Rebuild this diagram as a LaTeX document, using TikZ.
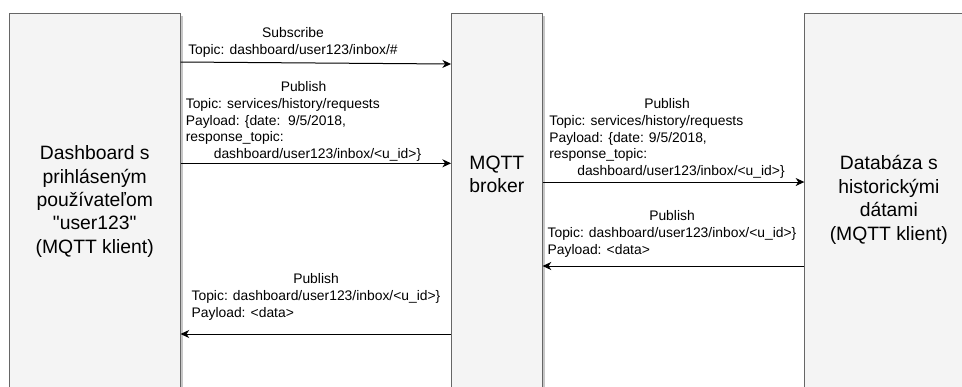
\documentclass[tikz,border=0pt]{standalone}
\usepackage{fontspec}
\setmainfont{Liberation Sans}[Ligatures=TeXOff]
\usetikzlibrary{positioning, arrows.meta, shadows}

\definecolor{boxfill}{HTML}{F4F4F4}
\definecolor{boxline}{HTML}{666666}

% centred first line of a message label
\newcommand{\msgtitle}[1]{\multicolumn{1}{@{}c@{}}{#1}}

\tikzset{
	party/.style={draw=boxline, fill=boxfill, line width=0.75pt, inner sep=0pt,
		minimum height=315pt,
		drop shadow={shadow xshift=2.2pt, shadow yshift=-2.2pt, fill=black!22, opacity=1}},
	partytext/.style={align=center, inner sep=0pt, font=\fontsize{14.5}{17.6}\selectfont},
	msgtext/.style={inner sep=0pt, font=\fontsize{10.4}{12.5}\selectfont},
	msg/.style={draw, line width=0.75pt, -{Stealth[length=6.5pt, width=6pt, inset=2pt]}}
}

\begin{document}
\begin{tikzpicture}[x=0.75pt, y=-0.75pt]
	\useasboundingbox (0,0) rectangle (962,386);
	\clip (0,0) rectangle (962,386);

	% the clients and the broker
	\node[party, minimum width=127.9pt] (dash) at (94.75,223.5) {};
	\node[party, minimum width=67.9pt, right=202.9pt of dash] (broker) {};
	\node[party, minimum width=126pt, right=196.3pt of broker] (db) {};

	\node[partytext, anchor=north] (dashname) at ([yshift=-99.2pt]dash.north)
		{Dashboard s\\prihláseným\\používateľom\\"user123"\\(MQTT klient)};
	\node[partytext, anchor=north] (brokername) at ([yshift=-106.7pt]broker.north)
		{MQTT\\broker};
	\node[partytext, anchor=north] (dbname) at ([yshift=-106.7pt]db.north)
		{Databáza s\\historickými\\dátami\\(MQTT klient)};

	% messages
	\draw[msg] (dash.east |- 0,62) -- (broker.west |- 0,64);
	\draw[msg] (dash.east |- 0,163.3) -- (broker.west |- 0,163.3);
	\draw[msg] (broker.east |- 0,182) -- (db.west |- 0,182);
	\draw[msg] (db.west |- 0,266) -- (broker.east |- 0,266);
	\draw[msg] (broker.west |- 0,334) -- (dash.east |- 0,334);

	\node[msgtext, anchor=north] (sublbl) at (293,26)
		{\begin{tabular}{@{}l@{}}
			\msgtitle{Subscribe}\\
			Topic: dashboard/user123/inbox/\#
		\end{tabular}};
	\node[msgtext, anchor=north] (reqlbl) at (303.5,80)
		{\begin{tabular}{@{}l@{}}
			\msgtitle{Publish}\\
			Topic: services/history/requests\\
			Payload: \{date:\ \ 9/5/2018,\\
			response\_topic:\\
			\hspace*{21pt}dashboard/user123/inbox/<u\_id>\}
		\end{tabular}};
	\node[msgtext, anchor=north] (fwdlbl) at (667,97)
		{\begin{tabular}{@{}l@{}}
			\msgtitle{Publish}\\
			Topic: services/history/requests\\
			Payload: \{date: 9/5/2018,\\
			response\_topic:\\
			\hspace*{21pt}dashboard/user123/inbox/<u\_id>\}
		\end{tabular}};
	\node[msgtext, anchor=north] (replbl) at (672,209)
		{\begin{tabular}{@{}l@{}}
			\msgtitle{Publish}\\
			Topic: dashboard/user123/inbox/<u\_id>\}\\
			Payload: <data>
		\end{tabular}};
	\node[msgtext, anchor=north] (dellbl) at (316,272)
		{\begin{tabular}{@{}l@{}}
			\msgtitle{Publish}\\
			Topic: dashboard/user123/inbox/<u\_id>\}\\
			Payload: <data>
		\end{tabular}};
\end{tikzpicture}
\end{document}
